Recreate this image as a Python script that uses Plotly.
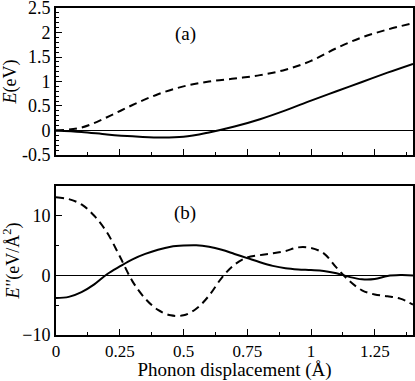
import plotly.graph_objects as go
from plotly.subplots import make_subplots

# panel (a): energy vs phonon displacement
x_a = [0, 0.1, 0.2, 0.3, 0.4, 0.5, 0.6, 0.7, 0.8, 0.9, 1.0, 1.1, 1.2, 1.3, 1.4]
e_solid = [0, -0.03, -0.08, -0.12, -0.145, -0.13, -0.04, 0.08, 0.23, 0.41, 0.61, 0.8, 0.99, 1.18, 1.36]
e_dash = [0, 0.06, 0.27, 0.52, 0.74, 0.9, 1.0, 1.06, 1.13, 1.24, 1.42, 1.68, 1.9, 2.06, 2.19]

# panel (b): second derivative
x_b = [0, 0.05, 0.1, 0.15, 0.2, 0.25, 0.3, 0.35, 0.4, 0.45, 0.5, 0.55, 0.6, 0.65, 0.7,
       0.75, 0.8, 0.85, 0.9, 0.95, 1.0, 1.05, 1.1, 1.15, 1.2, 1.25, 1.3, 1.35, 1.4]
d2_solid = [-3.8, -3.6, -2.8, -1.5, 0.2, 1.5, 2.7, 3.6, 4.3, 4.8, 5.0, 5.05, 4.8, 4.3, 3.6,
            2.9, 2.2, 1.6, 1.2, 1.0, 0.9, 0.75, 0.35, -0.25, -0.65, -0.6, -0.1, 0.05, 0]
d2_dash = [13.1, 12.8, 11.9, 10.0, 7.2, 3.2, -1.0, -3.9, -5.8, -6.7, -6.7, -5.6, -3.4, -0.4, 1.8,
           3.0, 3.4, 3.7, 4.1, 4.7, 4.6, 3.7, 1.3, -0.9, -2.5, -3.2, -3.5, -3.9, -4.9]

x_ticks = [0, 0.25, 0.5, 0.75, 1, 1.25]
x_ticklabels = ["0", "0.25", "0.5", "0.75", "1", "1.25"]
ya_ticks = [-0.5, 0, 0.5, 1, 1.5, 2, 2.5]
ya_ticklabels = ["-0.5", "0", "0.5", "1", "1.5", "2", "2.5"]
yb_ticks = [-10, 0, 10]

FONT = "Times New Roman, Liberation Serif, DejaVu Serif, serif"

fig = make_subplots(rows=2, cols=1, vertical_spacing=0.0)

fig.add_trace(go.Scatter(x=x_a, y=e_dash, mode="lines", line=dict(color="black", width=2, dash="8px,5px", shape="spline")), row=1, col=1)
fig.add_trace(go.Scatter(x=x_a, y=e_solid, mode="lines", line=dict(color="black", width=2, shape="spline")), row=1, col=1)
fig.add_trace(go.Scatter(x=x_b, y=d2_dash, mode="lines", line=dict(color="black", width=2, dash="8px,5px", shape="spline")), row=2, col=1)
fig.add_trace(go.Scatter(x=x_b, y=d2_solid, mode="lines", line=dict(color="black", width=2, shape="spline")), row=2, col=1)

axis_common = dict(showline=True, linecolor="black", linewidth=2, mirror=True,
                   ticks="inside", ticklen=6, tickwidth=1, tickcolor="black", automargin=False,
                   ticklabeloverflow="allow", showgrid=False,
                   tickfont=dict(family=FONT, size=18, color="black"))

fig.update_xaxes(range=[0, 1.4], tickvals=x_ticks, ticktext=x_ticklabels, zeroline=False,
                 minor=dict(dtick=0.125, tick0=0, ticks="inside", ticklen=3, tickcolor="black"),
                 **axis_common)
fig.update_xaxes(showticklabels=False, row=1, col=1)
fig.update_xaxes(tickfont=dict(family=FONT, size=17, color="black"),
                 title=dict(text="Phonon displacement (Å)", font=dict(family=FONT, size=19, color="black"), standoff=3),
                 row=2, col=1)

fig.update_yaxes(range=[-0.5, 2.5], tickvals=ya_ticks, ticktext=ya_ticklabels,
                 zeroline=True, zerolinecolor="black", zerolinewidth=1,
                 minor=dict(dtick=0.1, tick0=0, ticks="inside", ticklen=3, tickcolor="black"),
                 title=dict(text="<i>E</i>(eV)", font=dict(family=FONT, size=18, color="black"), standoff=4),
                 row=1, col=1, **axis_common)
fig.update_yaxes(range=[-10, 15], tickvals=yb_ticks, zeroline=True, zerolinecolor="black", zerolinewidth=1,
                 minor=dict(dtick=5, tick0=0, ticks="inside", ticklen=3, tickcolor="black"),
                 title=dict(text="<i>E''</i>(eV/Å<sup>2</sup>)", font=dict(family=FONT, size=18, color="black"), standoff=4),
                 row=2, col=1, **axis_common)

fig.update_layout(
    width=415, height=381,
    margin=dict(l=56, r=2, t=8, b=46),
    showlegend=False,
    plot_bgcolor="white", paper_bgcolor="white",
    yaxis=dict(domain=[0.5505, 1.0]),
    yaxis2=dict(domain=[0.0, 0.4557]),
    annotations=[
        dict(text="(a)", x=0.506, y=1.96, xref="x", yref="y", showarrow=False,
             font=dict(family=FONT, size=19, color="black")),
        dict(text="(b)", x=0.506, y=10.5, xref="x2", yref="y2", showarrow=False,
             font=dict(family=FONT, size=19, color="black")),
    ],
)

# the page body has a default 8px margin; drop it so the figure sits at the corner
fig.write_html("out.html", config={"displayModeBar": False},
               post_script="document.body.style.margin='0';")
